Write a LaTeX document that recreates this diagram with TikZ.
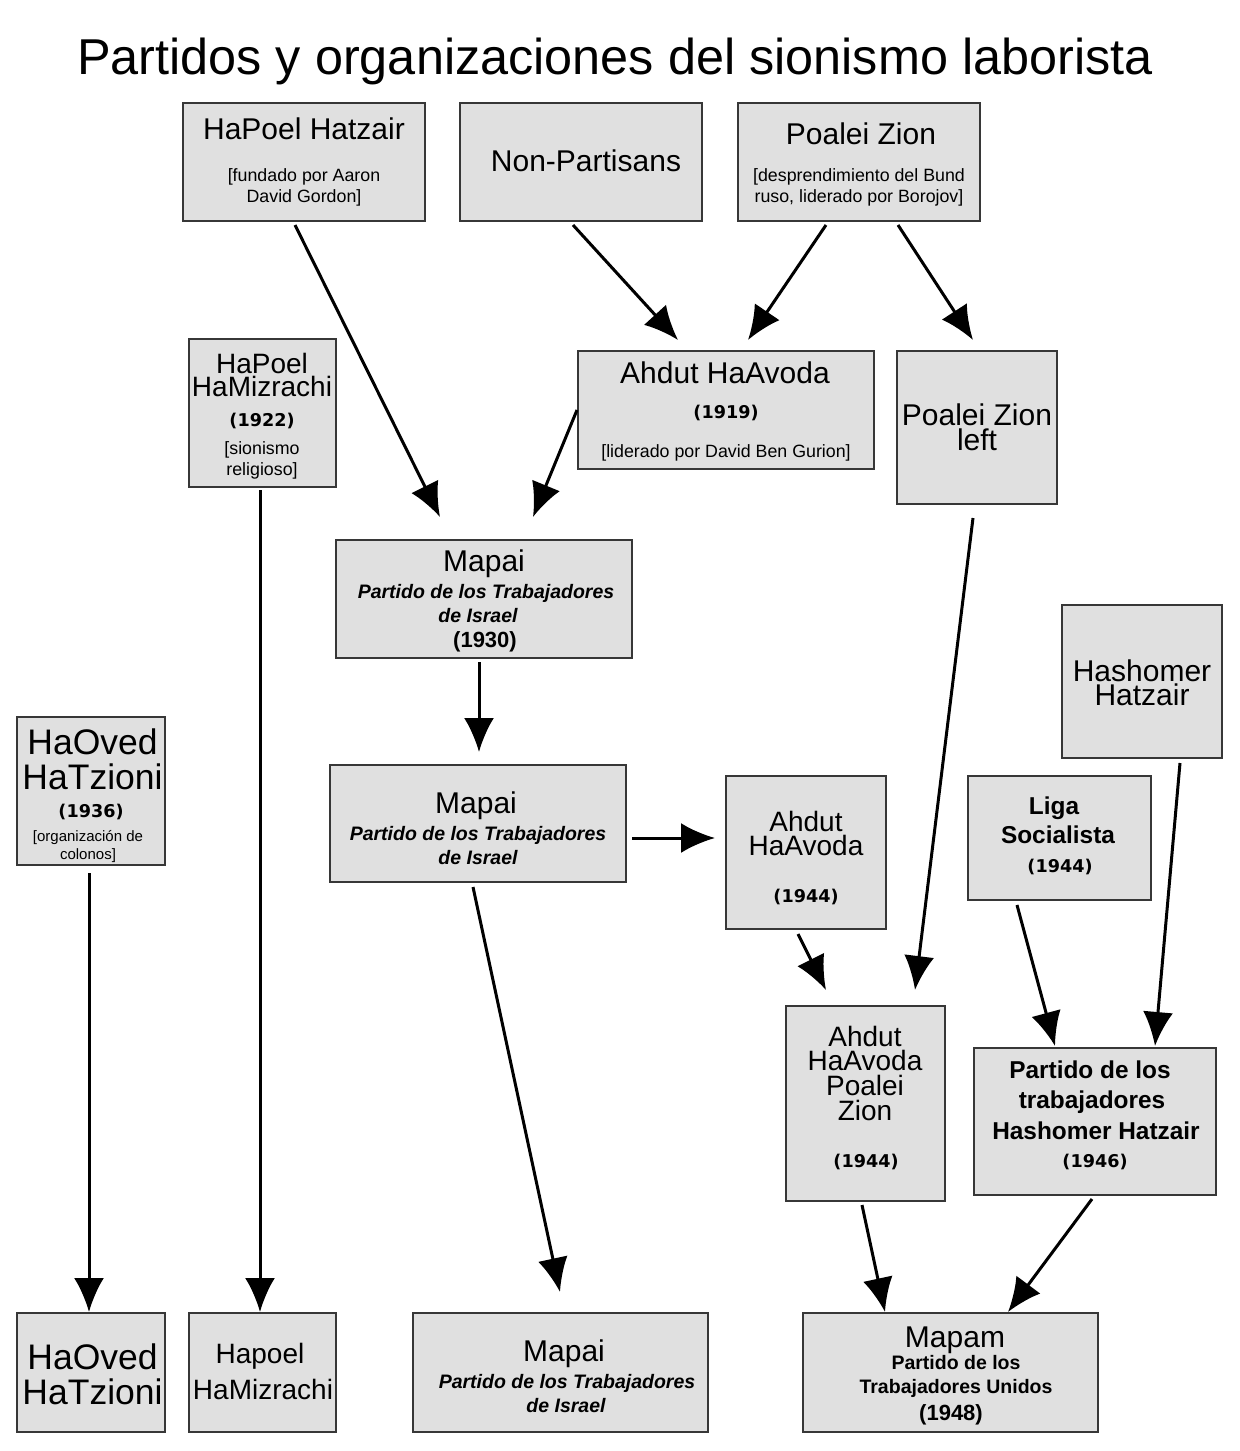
\documentclass[tikz,border=0pt]{standalone}
\usepackage{fontspec}
\setmainfont{Liberation Sans}
\newfontfamily\dvs{DejaVu Sans}
\usetikzlibrary{arrows.meta,fit}
\definecolor{boxfill}{RGB}{224,224,224}
\definecolor{boxline}{RGB}{55,55,55}
\newcommand\tx[5]{\node[txt,#4] (#1) at (#2,#3) {#5};}
\newcommand\mtx[5]{\node[mtxt,#4] (#1) at (#2,#3) {#5};}
\newcommand\bx[5]{\node[box,fit={(#2,#3)(#4,#5)}] (#1) {};}
\begin{document}
\begin{tikzpicture}[x=0.5pt,y=-0.5pt,
  box/.style={draw=boxline,fill=boxfill,line width=0.8pt,inner sep=0pt},
  arr/.style={line width=1.5pt,-{Latex[length=17pt,width=15pt]}},
  txt/.style={anchor=base,inner sep=0pt},
  mtxt/.style={anchor=center,inner sep=0pt,align=center},
  big/.style={font=\fontsize{15}{18}\selectfont},
  mid/.style={font=\fontsize{14}{17}\selectfont},
  huge/.style={font=\fontsize{17.75}{20}\selectfont},
  note/.style={font=\fontsize{8.9}{10}\selectfont},
  small/.style={font=\fontsize{7.5}{9}\selectfont},
  yr/.style={font=\dvs\bfseries\fontsize{8.8}{10}\selectfont},
  bi/.style={font=\bfseries\itshape\fontsize{9.75}{12}\selectfont},
  bd/.style={font=\bfseries\fontsize{12.2}{14}\selectfont},
  bs/.style={font=\bfseries\fontsize{9.75}{12}\selectfont}]
\useasboundingbox (0,0) rectangle (1240,1451);
\fill[white] (0,0) rectangle (1240,1451);

\node[txt,font=\fontsize{25.2}{30}\selectfont] (title) at (615,74) {Partidos y organizaciones del sionismo laborista};

% boxes
\bx{hph}{183}{103}{425}{221}
\bx{nonp}{460}{103}{702}{221}
\bx{pz}{738}{103}{980}{221}
\bx{hphm}{189}{339}{336}{487}
\bx{ahd1}{578}{351}{874}{469}
\bx{pzl}{897}{351}{1057}{504}
\bx{mapai1}{336}{540}{632}{658}
\bx{hh}{1062}{605}{1222}{758}
\bx{hoved}{17}{717}{165}{865}
\bx{mapai2}{330}{765}{626}{882}
\bx{ahd2}{726}{776}{886}{929}
\bx{liga}{968}{776}{1151}{900}
\bx{ahpz}{786}{1006}{945}{1201}
\bx{phh}{974}{1048}{1216}{1195}
\bx{hoved2}{17}{1313}{165}{1432}
\bx{hphm2}{189}{1313}{336}{1432}
\bx{mapai3}{413}{1313}{708}{1432}
\bx{mapam}{803}{1313}{1098}{1432}

% texts
\tx{t1a}{304}{139}{big}{HaPoel Hatzair}
\tx{t1b}{304}{181}{note}{[fundado por Aaron}
\tx{t1c}{304}{202}{note}{David Gordon]}
\tx{t2a}{586}{171}{big}{Non-Partisans}
\tx{t3a}{861}{144}{big}{Poalei Zion}
\tx{t3b}{859}{181}{note}{[desprendimiento del Bund}
\tx{t3c}{859}{202}{note}{ruso, liderado por Borojov]}
\mtx{t4a}{262}{374.5}{font=\fontsize{14}{11.5}\selectfont}{HaPoel\\HaMizrachi}
\tx{t4c}{262}{426}{yr}{(1922)}
\tx{t4d}{262}{454}{note}{[sionismo}
\tx{t4e}{262}{475}{note}{religioso]}
\tx{t5a}{725}{383}{big}{Ahdut HaAvoda}
\tx{t5b}{726}{418}{yr}{(1919)}
\tx{t5c}{726}{457}{note}{[liderado por David Ben Gurion]}
\mtx{t6a}{977}{427.75}{font=\fontsize{15}{12.5}\selectfont}{Poalei Zion\\left}
\tx{t7a}{484}{571}{big}{Mapai}
\tx{t7b}{486}{598}{bi}{Partido de los Trabajadores}
\tx{t7c}{478}{622}{bi}{de Israel}
\tx{t7d}{485}{647}{font=\bfseries\fontsize{11}{13}\selectfont}{(1930)}
\mtx{t8a}{1142}{683.25}{font=\fontsize{15}{12}\selectfont}{Hashomer\\Hatzair}
\mtx{t9a}{92.5}{759.8}{font=\fontsize{17.75}{17.5}\selectfont}{HaOved\\HaTzioni}
\tx{t9c}{91}{817}{yr}{(1936)}
\tx{t9d}{88}{841}{small}{[organización de}
\tx{t9e}{88}{859}{small}{colonos]}
\tx{t10a}{476}{813}{big}{Mapai}
\tx{t10b}{478}{840}{bi}{Partido de los Trabajadores}
\tx{t10c}{478}{864}{bi}{de Israel}
\mtx{t11a}{806}{833}{font=\fontsize{14}{12}\selectfont}{Ahdut\\HaAvoda}
\tx{t11c}{806}{902}{yr}{(1944)}
\tx{t12a}{1054}{814}{bd}{Liga}
\tx{t12b}{1058}{843}{bd}{Socialista}
\tx{t12c}{1060}{872}{yr}{(1944)}
\mtx{t13a}{865}{1073}{font=\fontsize{14}{12.33}\selectfont}{Ahdut\\HaAvoda\\Poalei\\Zion}
\tx{t13e}{866}{1167}{yr}{(1944)}
\tx{t14a}{1090}{1078}{bd}{Partido de los}
\tx{t14b}{1092}{1108}{bd}{trabajadores}
\tx{t14c}{1096}{1139}{bd}{Hashomer Hatzair}
\tx{t14d}{1095}{1167}{yr}{(1946)}
\mtx{t15a}{92.5}{1373.8}{font=\fontsize{17.75}{17.5}\selectfont}{HaOved\\HaTzioni}
\tx{t16a}{260}{1363}{mid}{Hapoel}
\tx{t16b}{263}{1399}{mid}{HaMizrachi}
\tx{t17a}{564}{1361}{big}{Mapai}
\tx{t17b}{567}{1388}{bi}{Partido de los Trabajadores}
\tx{t17c}{566}{1412}{bi}{de Israel}
\tx{t18a}{955}{1347}{big}{Mapam}
\tx{t18b}{956}{1369}{bs}{Partido de los}
\tx{t18c}{956}{1393}{bs}{Trabajadores Unidos}
\tx{t18d}{951}{1420}{font=\bfseries\fontsize{11}{13}\selectfont}{(1948)}

% connector end points
\coordinate (s1) at (295,225);  \coordinate (e1) at (440,517);
\coordinate (s2) at (573,225);  \coordinate (e2) at (678,340);
\coordinate (s3) at (826,225);  \coordinate (e3) at (748,340);
\coordinate (s4) at (898,225);  \coordinate (e4) at (973,340);
\coordinate (s5) at (577,410);  \coordinate (e5) at (533,517);
\coordinate (s6) at (260,490);  \coordinate (e6) at (260,1312);
\coordinate (s7) at (479,662);  \coordinate (e7) at (479,752);
\coordinate (s8) at (973,518);  \coordinate (e8) at (915,990);
\coordinate (s9) at (632,838);  \coordinate (e9) at (715,838);
\coordinate (s10) at (473,887); \coordinate (e10) at (560,1292);
\coordinate (s11) at (798,934); \coordinate (e11) at (826,990);
\coordinate (s12) at (1017,905);\coordinate (e12) at (1055,1046);
\coordinate (s13) at (1180,763);\coordinate (e13) at (1155,1046);
\coordinate (s14) at (89,873);  \coordinate (e14) at (89,1312);
\coordinate (s15) at (862,1205);\coordinate (e15) at (885,1312);
\coordinate (s16) at (1092,1199);\coordinate (e16) at (1008,1312);

\draw[arr] (s1) -- (e1);
\draw[arr] (s2) -- (e2);
\draw[arr] (s3) -- (e3);
\draw[arr] (s4) -- (e4);
\draw[arr] (s5) -- (e5);
\draw[arr] (s6) -- (e6);
\draw[arr] (s7) -- (e7);
\draw[arr] (s8) -- (e8);
\draw[arr] (s9) -- (e9);
\draw[arr] (s10) -- (e10);
\draw[arr] (s11) -- (e11);
\draw[arr] (s12) -- (e12);
\draw[arr] (s13) -- (e13);
\draw[arr] (s14) -- (e14);
\draw[arr] (s15) -- (e15);
\draw[arr] (s16) -- (e16);
\end{tikzpicture}
\end{document}
